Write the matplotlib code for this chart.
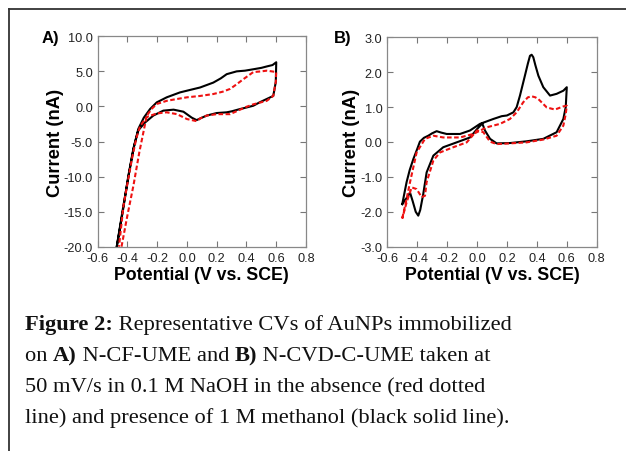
import matplotlib
matplotlib.use("Agg")
import matplotlib.pyplot as plt
from matplotlib.lines import Line2D

plt.rcParams['font.family'] = ['Liberation Sans', 'DejaVu Sans']

# Panel A: N-CF-UME
a_meoh_x = [-0.472, -0.43, -0.39, -0.355, -0.327, -0.29, -0.248, -0.203, -0.136, -0.047, 0.02, 0.088,
            0.177, 0.227, 0.267, 0.334, 0.39, 0.446, 0.50, 0.536, 0.575, 0.60,
            0.597, 0.58, 0.536, 0.49, 0.446, 0.40, 0.357, 0.30, 0.267, 0.20, 0.133, 0.09, 0.065, 0.032,
            -0.024, -0.09, -0.159, -0.226, -0.282, -0.327, -0.36, -0.394, -0.43, -0.472]
a_meoh_y = [-20.0, -14.5, -9.6, -5.6, -3.2, -1.6, -0.37, 0.58, 1.3, 2.0, 2.35, 2.7,
            3.4, 4.0, 4.6, 5.0, 5.1, 5.3, 5.5, 5.7, 5.9, 6.3,
            3.5, 1.5, 1.06, 0.6, 0.1, -0.15, -0.37, -0.7, -0.84, -0.94, -1.3, -1.7, -1.95, -1.6,
            -0.75, -0.46, -0.6, -1.3, -2.3, -3.4, -6.0, -9.9, -14.8, -20.0]
a_naoh_x = [-0.44, -0.40, -0.36, -0.32, -0.27, -0.235, -0.203, -0.136, -0.07, 0.0, 0.09, 0.177,
            0.24, 0.29, 0.33, 0.38, 0.446, 0.50, 0.536, 0.57, 0.60,
            0.597, 0.58, 0.536, 0.446, 0.40, 0.357, 0.29, 0.2, 0.133, 0.09, 0.065, 0.0,
            -0.067, -0.136, -0.203, -0.27, -0.315, -0.34, -0.37, -0.40, -0.427, -0.457]
a_naoh_y = [-20.0, -15.5, -11.3, -6.5, -1.3, -0.3, 0.35, 0.8, 1.05, 1.3, 1.5, 1.77,
            2.1, 2.5, 3.1, 3.9, 4.9, 5.0, 5.1, 5.0, 4.9,
            3.5, 1.5, 0.8, 0.3, -0.05, -0.46, -1.1, -1.1, -1.3, -1.7, -2.1, -1.8,
            -1.1, -0.84, -1.0, -1.5, -2.8, -4.5, -7.5, -11.0, -14.2, -20.0]

# Panel B: N-CVD-C-UME
b_meoh_x = [-0.5, -0.471, -0.45, -0.426, -0.40, -0.382, -0.355, -0.326, -0.30, -0.27, -0.24, -0.203,
            -0.114, -0.047, 0.02, 0.109, 0.165, 0.2, 0.243, 0.265, 0.287, 0.32, 0.34, 0.354,
            0.365, 0.376, 0.39, 0.41, 0.443, 0.488, 0.532, 0.577, 0.60,
            0.593, 0.577, 0.532, 0.443, 0.332, 0.22, 0.131, 0.087, 0.053, 0.035, 0.0,
            -0.047, -0.136, -0.226, -0.292, -0.337, -0.36, -0.38, -0.393, -0.41, -0.43, -0.448,
            -0.47, -0.5]
b_meoh_y = [-1.78, -1.15, -0.8, -0.49, -0.2, 0.01, 0.12, 0.18, 0.25, 0.31, 0.27, 0.23,
            0.23, 0.33, 0.52, 0.66, 0.74, 0.76, 0.85, 1.0, 1.33, 1.9, 2.25, 2.47,
            2.5, 2.43, 2.2, 1.9, 1.57, 1.33, 1.38, 1.47, 1.57,
            1.0, 0.66, 0.28, 0.09, 0.02, -0.03, -0.04, 0.09, 0.33, 0.53, 0.37,
            0.13, -0.01, -0.15, -0.39, -0.87, -1.5, -1.95, -2.11, -2.0, -1.7, -1.45,
            -1.6, -1.78]
b_naoh_x = [-0.5, -0.471, -0.448, -0.404, -0.348, -0.292, -0.226, -0.114, -0.025, 0.064, 0.154,
            0.22, 0.265, 0.309, 0.34, 0.365, 0.39, 0.41, 0.466, 0.521, 0.577, 0.60,
            0.593, 0.577, 0.532, 0.443, 0.332, 0.22, 0.131, 0.087, 0.042, 0.0,
            -0.069, -0.159, -0.248, -0.292, -0.337, -0.348, -0.37, -0.404, -0.437, -0.471, -0.5]
b_naoh_y = [-2.19, -1.63, -1.15, -0.3, 0.09, 0.18, 0.13, 0.13, 0.23, 0.42, 0.52,
            0.66, 0.85, 1.14, 1.28, 1.31, 1.28, 1.23, 0.99, 0.93, 1.02, 1.04,
            0.8, 0.47, 0.18, 0.07, -0.01, -0.04, -0.06, 0.01, 0.28, 0.33,
            -0.01, -0.15, -0.3, -0.53, -1.15, -1.54, -1.58, -1.35, -1.3, -1.73, -2.19]

x_ticks = [-0.6, -0.4, -0.2, 0.0, 0.2, 0.4, 0.6, 0.8]
a_yticks = [-20, -15, -10, -5, 0, 5, 10]
b_yticks = [-3, -2, -1, 0, 1, 2, 3]

W, H = 626, 452
fig = plt.figure(figsize=(W / 100, H / 100), dpi=100)


def px_axes(l, t, r, b):
    return fig.add_axes([l / W, 1 - b / H, (r - l) / W, (b - t) / H])


def style(ax, yticks, ylim):
    ax.set_xlim(-0.6, 0.8)
    ax.set_ylim(*ylim)
    ax.set_xticks(x_ticks)
    ax.set_yticks(yticks)
    ax.set_xticklabels([f"{v:.1f}" for v in x_ticks])
    ax.set_yticklabels([f"{v:.1f}" for v in yticks])
    ax.tick_params(direction='in', top=True, right=True, length=4, width=0.8,
                   color='#777777', labelsize=9.2, labelcolor='#222222')
    ax.tick_params(axis='x', pad=4)
    ax.tick_params(axis='y', pad=3.5)
    for s in ax.spines.values():
        s.set_color('#888888')
        s.set_linewidth(0.9)
    ax.set_xlabel('Potential (V vs. SCE)', fontsize=12.8, fontweight='bold', labelpad=1)
    ax.set_ylabel('Current (nA)', fontsize=13.2, fontweight='bold', labelpad=0)


axA = px_axes(97.7, 37.3, 306, 247.7)
axA.plot(a_meoh_x, a_meoh_y, color='black', lw=1.5)
axA.plot(a_naoh_x, a_naoh_y, color='#ee1111', lw=1.5, ls=(0, (2.2, 1.2)))
style(axA, a_yticks, (-20, 10))

axB = px_axes(387.3, 38.3, 596.7, 247.7)
axB.plot(b_meoh_x, b_meoh_y, color='black', lw=1.5)
axB.plot(b_naoh_x, b_naoh_y, color='#ee1111', lw=1.5, ls=(0, (2.2, 1.2)))
style(axB, b_yticks, (-3, 3))

fig.text(42 / W, 1 - 38 / H, 'A)', fontsize=12, fontweight='bold', va='center', ha='left')
fig.text(334 / W, 1 - 38 / H, 'B)', fontsize=12, fontweight='bold', va='center', ha='left')

# border lines (top and left)
fig.add_artist(Line2D([9 / W, 1], [1 - 10 / H, 1 - 10 / H], color='#333333', lw=1.3))
fig.add_artist(Line2D([9 / W, 9 / W], [1 - 10 / H, 0], color='#333333', lw=1.3))

# caption with mixed bold/normal runs
caption = [
    [("Figure 2:", 'bold'), (" Representative CVs of AuNPs immobilized", 'normal')],
    [("on ", 'normal'), ("A)", 'bold'), (" N-CF-UME and ", 'normal'), ("B)", 'bold'),
     (" N-CVD-C-UME taken at", 'normal')],
    [("50 mV/s in 0.1 M NaOH in the absence (red dotted", 'normal')],
    [("line) and presence of 1 M methanol (black solid line).", 'normal')],
]
line_y = [330, 361, 392, 423]
renderer = fig.canvas.get_renderer()
for runs, yb in zip(caption, line_y):
    x = 25
    for txt, wt in runs:
        t = fig.text(x / W, 1 - yb / H, txt, fontsize=16.2, fontweight=wt,
                     family='Liberation Serif', ha='left', va='baseline', color='#111111')
        bb = t.get_window_extent(renderer)
        x += bb.width

fig.savefig('out.png', dpi=100)
